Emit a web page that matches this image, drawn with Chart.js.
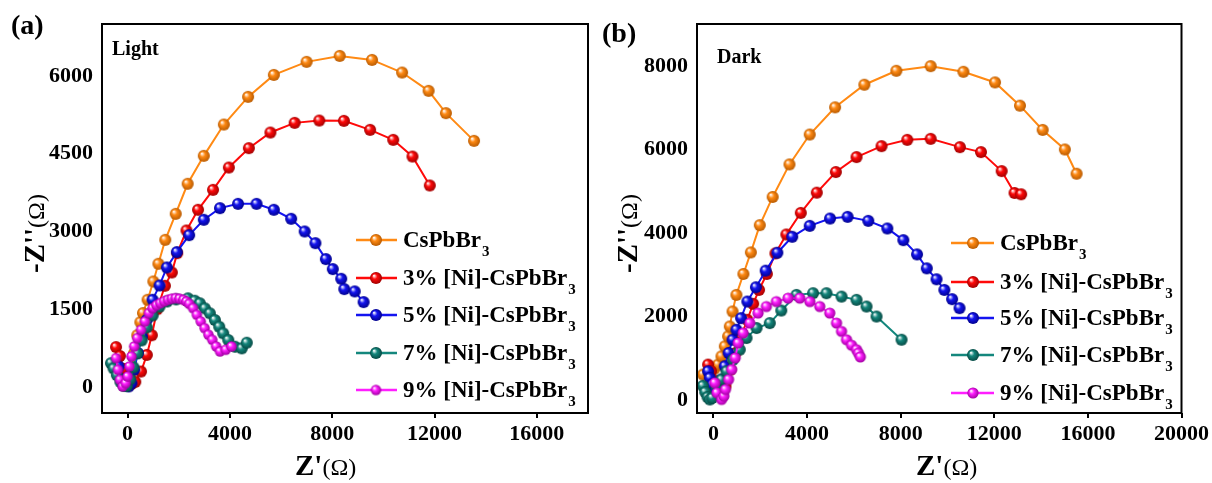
<!DOCTYPE html>
<html>
<head>
<meta charset="utf-8">
<script src="https://cdn.jsdelivr.net/npm/chart.js@4.4.0/dist/chart.umd.min.js"></script>
<style>
body { margin: 0; background: #fff; }
#wrap { position: relative; width: 1212px; height: 483px; }
#c1 { position: absolute; left: 0; top: 0; }
#c2 { position: absolute; left: 600px; top: 0; }
</style>
</head>
<body>
<div id="wrap">
<canvas id="c1" width="600" height="483"></canvas>
<canvas id="c2" width="612" height="483"></canvas>
</div>
<script>
// Nomes das séries (legenda)
const seriesNames = ['CsPbBr₃', '3% [Ni]-CsPbBr₃', '5% [Ni]-CsPbBr₃', '7% [Ni]-CsPbBr₃', '9% [Ni]-CsPbBr₃'];

// Ticks
const lightXTicks = [0, 4000, 8000, 12000, 16000];
const lightYTicks = [0, 1500, 3000, 4500, 6000];
const darkXTicks = [0, 4000, 8000, 12000, 16000, 20000];
const darkYTicks = [0, 2000, 4000, 6000, 8000];

// (a) Light - Z' e -Z''
const lightPureX = [-250, -100, 50, 150, 250, 380, 500, 602, 783, 1008, 1204, 1475, 1881, 2348, 2980, 3763, 4711, 5719, 6998, 8293, 9557, 10731, 11769, 12446, 13545];
const lightPureY = [300, 100, 30, 300, 650, 1000, 1250, 1426, 1683, 2036, 2377, 2839, 3340, 3919, 4458, 5062, 5595, 6019, 6270, 6385, 6308, 6064, 5711, 5281, 4747];
const light3X = [-452, -300, -150, 0, 150, 301, 527, 753, 948, 1159, 1460, 1731, 1941, 2303, 2754, 3341, 3958, 4741, 5584, 6532, 7495, 8458, 9482, 10385, 11137, 11814];
const light3Y = [771, 600, 350, 150, 60, 100, 300, 620, 1000, 1500, 1953, 2210, 2582, 3019, 3418, 3803, 4233, 4606, 4908, 5094, 5139, 5133, 4959, 4767, 4445, 3887];
const light5X = [-346, -150, 45, 150, 256, 406, 557, 753, 978, 1249, 1535, 1926, 2408, 2980, 3612, 4319, 5042, 5719, 6396, 6923, 7344, 7751, 8022, 8353, 8473, 8880, 9226];
const light5Y = [398, 141, 13, 77, 334, 655, 976, 1298, 1683, 1959, 2306, 2602, 2929, 3225, 3450, 3533, 3533, 3418, 3244, 3000, 2775, 2467, 2274, 2088, 1889, 1844, 1638];
const light7X = [-650, -550, -420, -280, -150, -30, 100, 230, 380, 550, 750, 980, 1250, 1550, 1900, 2364, 2627, 2824, 3021, 3217, 3414, 3583, 3740, 3937, 4200, 4464, 4661];
const light7Y = [460, 360, 230, 100, 20, 20, 150, 380, 650, 900, 1150, 1380, 1550, 1650, 1690, 1711, 1665, 1615, 1518, 1422, 1293, 1164, 1036, 907, 778, 746, 855];
const light9X = [-452, -376, -301, -196, -75, 0, 75, 150, 256, 376, 527, 677, 828, 978, 1130, 1279, 1430, 1580, 1730, 1881, 2030, 2182, 2300, 2408, 2559, 2709, 2860, 3010, 3161, 3311, 3462, 3612, 3838, 4064];
const light9Y = [559, 334, 141, 13, 77, 206, 398, 591, 784, 944, 1105, 1266, 1426, 1523, 1580, 1619, 1655, 1683, 1705, 1715, 1705, 1683, 1650, 1606, 1523, 1394, 1266, 1137, 1009, 912, 784, 687, 720, 784];

// (b) Dark
const darkPureX = [-440, -200, 50, 201, 346, 487, 629, 701, 817, 983, 1283, 1600, 1983, 2533, 3250, 4117, 5200, 6450, 7817, 9283, 10683, 12033, 13100, 14067, 15017, 15517];
const darkPureY = [620, 650, 760, 857, 1055, 1293, 1531, 1769, 2127, 2524, 3024, 3540, 4191, 4865, 5643, 6357, 7008, 7548, 7881, 7992, 7857, 7603, 7048, 6468, 6000, 5421];
const dark3X = [-226, -100, 50, 180, 317, 517, 733, 950, 1183, 1450, 1700, 1950, 2283, 2650, 3117, 3733, 4417, 5233, 6117, 7183, 8283, 9283, 10533, 11433, 12317, 12867, 13150];
const dark3Y = [857, 700, 480, 300, 183, 341, 738, 1135, 1532, 1929, 2310, 2643, 3024, 3516, 3968, 4484, 4968, 5461, 5818, 6080, 6230, 6254, 6056, 5937, 5484, 4960, 4929];
const dark5X = [-226, -154, -50, 100, 233, 350, 483, 650, 817, 983, 1183, 1450, 1817, 2233, 2733, 3367, 4117, 4983, 5733, 6617, 7433, 8117, 8700, 9117, 9533, 9867, 10200, 10517];
const dark5Y = [698, 540, 380, 250, 302, 500, 818, 1135, 1452, 1690, 1968, 2365, 2706, 3103, 3532, 3913, 4175, 4349, 4389, 4294, 4111, 3833, 3492, 3159, 2897, 2643, 2421, 2206];
const dark7X = [-450, -350, -250, -150, -50, 132, 346, 560, 842, 1128, 1415, 1843, 2410, 2900, 3551, 4261, 4831, 5474, 6115, 6543, 6970, 8038];
const dark7Y = [350, 200, 80, 24, 60, 340, 500, 698, 976, 1214, 1493, 1731, 1850, 2150, 2524, 2564, 2564, 2483, 2405, 2245, 2007, 1452];
const dark9X = [60, 150, 350, 450, 517, 650, 783, 933, 1056, 1270, 1556, 1911, 2265, 2693, 3192, 3692, 4120, 4547, 4974, 5261, 5474, 5688, 5902, 6115, 6200, 6280];
const dark9Y = [421, 183, 24, 103, 262, 500, 738, 1016, 1373, 1612, 1850, 2088, 2245, 2364, 2445, 2445, 2364, 2245, 2088, 1850, 1650, 1452, 1320, 1214, 1130, 1040];

// Cores
const seriesColors = ['#FF8A14', '#FF0A0A', '#1414F0', '#14877D', '#FF1EFF'];
const seriesDark = ['#B85A00', '#A00000', '#00008C', '#064A44', '#A000A0'];

const fontFam = '"Liberation Serif", "Times New Roman", serif';

// Bolinha com brilho (marcador)
function ball(color, dark, r) {
    const c = document.createElement('canvas');
    const s = Math.ceil(r * 2 + 2);
    c.width = s; c.height = s;
    const g = c.getContext('2d');
    const m = s / 2;
    const grad = g.createRadialGradient(m - r * 0.35, m - r * 0.4, r * 0.05, m, m, r);
    grad.addColorStop(0, '#ffffff');
    grad.addColorStop(0.4, color);
    grad.addColorStop(1, dark);
    g.fillStyle = grad;
    g.beginPath();
    g.arc(m, m, r, 0, Math.PI * 2);
    g.fill();
    return c;
}

function pts(xs, ys) {
    return xs.map((x, i) => ({ x: x, y: ys[i] }));
}

function buildSets(xsList, ysList, radii) {
    return xsList.map((xs, i) => ({
        label: seriesNames[i],
        data: pts(xs, ysList[i]),
        showLine: true,
        borderColor: seriesColors[i],
        borderWidth: 2,
        pointStyle: ball(seriesColors[i], seriesDark[i], radii[i]),
        pointRadius: radii[i],
        order: 5 - i
    }));
}

// Moldura, títulos e legenda
function decoPlugin(cfg) {
    return {
        id: 'deco',
        afterDraw(chart) {
            const ctx = chart.ctx, a = chart.chartArea;
            ctx.save();
            ctx.strokeStyle = '#000';
            ctx.lineWidth = 2;
            ctx.strokeRect(a.left, a.top, a.right - a.left, a.bottom - a.top);

            ctx.fillStyle = '#000';
            ctx.textBaseline = 'alphabetic';
            ctx.textAlign = 'left';
            ctx.font = 'bold 28px ' + fontFam;
            ctx.fillText(cfg.panel, cfg.panelX, cfg.panelY);
            ctx.font = 'bold 20px ' + fontFam;
            ctx.fillText(cfg.mode, cfg.modeX, cfg.modeY);

            // eixo x
            let x = cfg.xtX;
            ctx.font = 'bold 29px ' + fontFam;
            ctx.fillText("Z'", x, cfg.xtY);
            x += ctx.measureText("Z'").width;
            ctx.font = '24px ' + fontFam;
            ctx.fillText('(Ω)', x, cfg.xtY);

            // legenda
            cfg.legY.forEach((y, i) => {
                ctx.strokeStyle = seriesColors[i];
                ctx.lineWidth = 2.5;
                ctx.beginPath();
                ctx.moveTo(cfg.legX0, y);
                ctx.lineTo(cfg.legX1, y);
                ctx.stroke();
                const img = chart.data.datasets[i].pointStyle;
                ctx.drawImage(img, cfg.legBall - img.width / 2, y - img.height / 2);
                const parts = seriesNames[i].split('₃');
                ctx.fillStyle = '#000';
                ctx.font = 'bold 23px ' + fontFam;
                ctx.fillText(parts[0], cfg.legText, y + 7);
                const w = ctx.measureText(parts[0]).width;
                ctx.font = 'bold 15px ' + fontFam;
                ctx.fillText('3', cfg.legText + w + 1, y + 16);
            });

            // eixo y
            ctx.translate(cfg.ytX, cfg.ytY);
            ctx.rotate(-Math.PI / 2);
            ctx.font = 'bold 29px ' + fontFam;
            ctx.fillText("-Z''", 0, 0);
            const w2 = ctx.measureText("-Z''").width;
            ctx.font = '24px ' + fontFam;
            ctx.fillText('(Ω)', w2, 0);
            ctx.restore();
        }
    };
}

function makeChart(id, sets, xMin, xMax, yMin, yMax, xTicks, yTicks, yWidth, padRight, cfg) {
    const tickFont = { family: fontFam, size: 22, weight: 'bold' };
    return new Chart(document.getElementById(id), {
        type: 'scatter',
        data: { datasets: sets },
        options: {
            responsive: false,
            animation: false,
            layout: { padding: { top: 24, right: padRight, left: 0, bottom: 0 } },
            elements: { line: { tension: 0 } },
            plugins: { legend: { display: false }, tooltip: { enabled: false } },
            scales: {
                x: {
                    type: 'linear', min: xMin, max: xMax,
                    afterBuildTicks: s => { s.ticks = xTicks.map(v => ({ value: v })); },
                    afterFit: s => { s.height = 70; },
                    grid: { display: true, drawOnChartArea: false, drawTicks: true, tickLength: 5, color: '#000', lineWidth: 2 },
                    border: { display: false },
                    ticks: { font: tickFont, color: '#000', padding: 3, maxRotation: 0, autoSkip: false, callback: v => String(v) }
                },
                y: {
                    type: 'linear', min: yMin, max: yMax,
                    afterBuildTicks: s => { s.ticks = yTicks.map(v => ({ value: v })); },
                    afterFit: s => { s.width = yWidth; },
                    grid: { display: false, drawTicks: false },
                    border: { display: false },
                    ticks: { font: tickFont, color: '#000', padding: 9, autoSkip: false, callback: v => String(v) }
                }
            }
        },
        plugins: [decoPlugin(cfg)]
    });
}

makeChart('c1',
    buildSets([lightPureX, light3X, light5X, light7X, light9X], [lightPureY, light3Y, light5Y, light7Y, light9Y], [6, 6, 6, 6, 5.2]),
    -1000, 18000, -500, 7000, lightXTicks, lightYTicks, 102, 12,
    { panel: '(a)', panelX: 11, panelY: 34, mode: 'Light', modeX: 112, modeY: 55,
      xtX: 295, xtY: 475, ytX: 44, ytY: 273,
      legX0: 356, legX1: 397, legBall: 376, legText: 403, legY: [240, 278, 315, 353, 390] });

makeChart('c2',
    buildSets([darkPureX, dark3X, dark5X, dark7X, dark9X], [darkPureY, dark3Y, dark5Y, dark7Y, dark9Y], [6, 6, 6, 6, 5.6]),
    -700, 20000, -300, 9000, darkXTicks, darkYTicks, 97, 30,
    { panel: '(b)', panelX: 2, panelY: 42, mode: 'Dark', modeX: 117, modeY: 63,
      xtX: 316, xtY: 475, ytX: 37, ytY: 273,
      legX0: 351, legX1: 394, legBall: 373, legText: 400, legY: [243, 282, 318, 355, 393] });
</script>
</body>
</html>
